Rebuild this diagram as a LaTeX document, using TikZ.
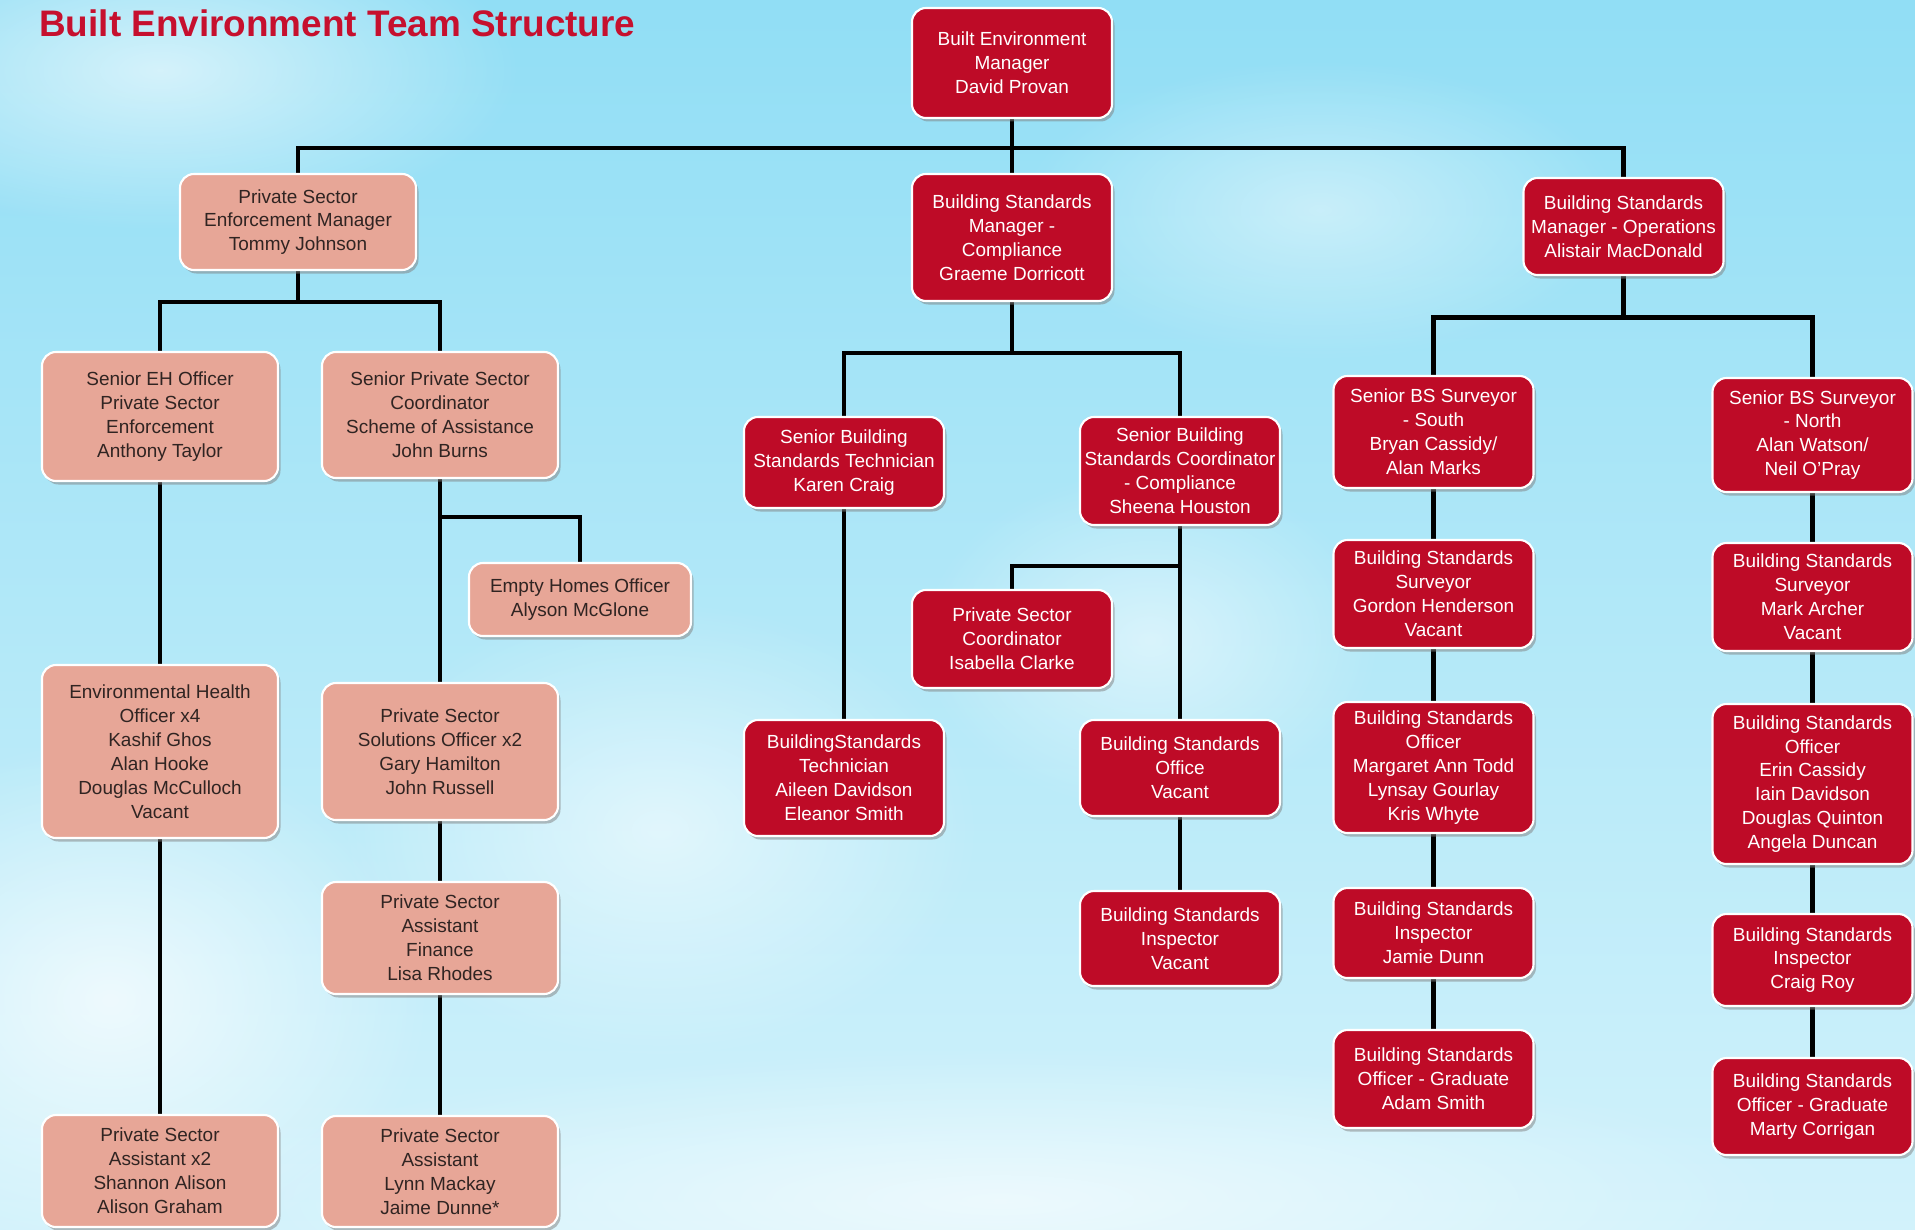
\documentclass[tikz,border=0pt]{standalone}
\usepackage{fontspec}
\setmainfont{Liberation Sans}
\usepackage{xcolor}
\usepackage{tikz}
\usetikzlibrary{
    positioning,
    shadows,
    fadings,
    backgrounds,
}

\definecolor{skytop}{RGB}{145,222,245}
\definecolor{skymid}{RGB}{112,210,240}
\definecolor{skybot}{RGB}{210,242,251}
\definecolor{pinkfill}{RGB}{231,166,151}
\definecolor{pinktext}{RGB}{48,36,34}
\definecolor{redfill}{RGB}{190,11,39}
\definecolor{titlered}{RGB}{198,16,46}

\tikzfading[name=puff, inner color=transparent!0, outer color=transparent!100]

\begin{document}
\begin{tikzpicture}[
        x=0.2mm, y=-0.2mm,
        post/.style={
            rectangle, rounded corners=0.28cm, draw=white, line width=1.2pt,
            fill=#1, align=center, inner sep=1pt, outer sep=0pt,
            font=\fontsize{10.8}{13.6}\selectfont,
            drop shadow={opacity=0.5, shadow xshift=0.5mm, shadow yshift=-0.7mm}
        },
        pinkpost/.style={post=pinkfill, text=pinktext, minimum width=4.72cm},
        redpost/.style={post=redfill, text=white, minimum width=4cm},
        link/.style={line width=2.6pt, black},
        cloud/.style={white, path fading=puff, opacity=#1},
    ]
    \useasboundingbox (0,0) rectangle (1915,1230);

    % ── Sky ──
    \begin{scope}[on background layer]
        \clip (0,0) rectangle (1915,1230);
        \fill[top color=skytop, middle color=skymid, bottom color=skybot] (0,0) rectangle (1915,1230);
        \fill[cloud=0.6] (160,70) ellipse (360 and 160);
        \fill[cloud=0.45] (1320,210) ellipse (300 and 150);
        \fill[cloud=0.7] (110,1000) ellipse (320 and 260);
        \fill[cloud=0.55] (660,830) ellipse (320 and 230);
        \fill[cloud=0.5] (1150,640) ellipse (230 and 170);
        \fill[cloud=0.6] (1000,1200) ellipse (800 and 150);
    \end{scope}

    % ── Title ──
    \node[anchor=base west, inner sep=0pt, text=titlered,
        font=\fontsize{21}{24}\selectfont\bfseries] (title) at (39,37) {Built Environment Team Structure};

    % ── Head ──
    \node[redpost, minimum height=2.2cm] (bem) at (1012,63) {Built Environment\\Manager\\David Provan};

    \node[pinkpost, minimum height=1.92cm] (psem) at (298,222) {Private Sector\\Enforcement Manager\\Tommy Johnson};
    \node[redpost, minimum height=2.54cm] (bsmc) at (1012,237.5) {Building Standards\\Manager -\\Compliance\\Graeme Dorricott};
    \node[redpost, minimum height=1.94cm] (bsmo) at (1623.5,226.5) {Building Standards\\Manager - Operations\\Alistair MacDonald};

    % ── Private sector enforcement ──
    \node[pinkpost, minimum height=2.58cm] (seho) at (160,416.5) {Senior EH Officer\\Private Sector\\Enforcement\\Anthony Taylor};
    \node[pinkpost, minimum height=3.46cm, below=3.68cm of seho] (eho) {Environmental Health\\Officer x4\\Kashif Ghos\\Alan Hooke\\Douglas McCulloch\\Vacant};
    \node[pinkpost, minimum height=2.24cm, below=5.54cm of eho] (psa) {Private Sector\\Assistant x2\\Shannon Alison\\Alison Graham};

    \node[pinkpost, minimum height=2.52cm] (spsc) at (440,415) {Senior Private Sector\\Coordinator\\Scheme of Assistance\\John Burns};
    \node[pinkpost, minimum width=4.44cm, minimum height=1.46cm] (eh) at (580,599.5) {Empty Homes Officer\\Alyson McGlone};
    \node[pinkpost, minimum height=2.74cm, below=4.1cm of spsc] (psso) {Private Sector\\Solutions Officer x2\\Gary Hamilton\\John Russell};
    \node[pinkpost, minimum height=2.24cm, below=1.24cm of psso] (psaf) {Private Sector\\Assistant\\Finance\\Lisa Rhodes};
    \node[pinkpost, minimum height=2.22cm, below=2.44cm of psaf] (psal) {Private Sector\\Assistant\\Lynn Mackay\\Jaime Dunne*};

    % ── Building standards compliance ──
    \node[redpost, minimum height=1.82cm] (sbst) at (844,462.5) {Senior Building\\Standards Technician\\Karen Craig};
    \node[redpost, minimum height=2.32cm, below=4.24cm of sbst] (bst) {BuildingStandards\\Technician\\Aileen Davidson\\Eleanor Smith};

    \node[redpost, minimum height=2.16cm] (sbsc) at (1180,471) {Senior Building\\Standards Coordinator\\- Compliance\\Sheena Houston};
    \node[redpost, minimum height=1.96cm] (psc) at (1012,639) {Private Sector\\Coordinator\\Isabella Clarke};
    \node[redpost, minimum height=1.92cm, below=3.9cm of sbsc] (bsoff) {Building Standards\\Office\\Vacant};
    \node[redpost, minimum height=1.9cm, below=1.5cm of bsoff] (bsinsp) {Building Standards\\Inspector\\Vacant};

    % ── Building standards operations ──
    \node[redpost, minimum height=2.24cm] (south) at (1433.5,432) {Senior BS Surveyor\\- South\\Bryan Cassidy/\\Alan Marks};
    \node[redpost, minimum height=2.16cm, below=1.04cm of south] (svs) {Building Standards\\Surveyor\\Gordon Henderson\\Vacant};
    \node[redpost, minimum height=2.62cm, below=1.08cm of svs] (offs) {Building Standards\\Officer\\Margaret Ann Todd\\Lynsay Gourlay\\Kris Whyte};
    \node[redpost, minimum height=1.8cm, below=1.1cm of offs] (insps) {Building Standards\\Inspector\\Jamie Dunn};
    \node[redpost, minimum height=1.96cm, below=1.04cm of insps] (grads) {Building Standards\\Officer - Graduate\\Adam Smith};

    \node[redpost, minimum height=2.28cm] (north) at (1812.5,435) {Senior BS Surveyor\\- North\\Alan Watson/\\Neil O’Pray};
    \node[redpost, minimum height=2.16cm, below=1.02cm of north] (svn) {Building Standards\\Surveyor\\Mark Archer\\Vacant};
    \node[redpost, minimum height=3.2cm, below=1.06cm of svn] (offn) {Building Standards\\Officer\\Erin Cassidy\\Iain Davidson\\Douglas Quinton\\Angela Duncan};
    \node[redpost, minimum height=1.84cm, below=1.0cm of offn] (inspn) {Building Standards\\Inspector\\Craig Roy};
    \node[redpost, minimum height=1.94cm, below=1.04cm of inspn] (gradn) {Building Standards\\Officer - Graduate\\Marty Corrigan};

    % ── Lines ──
    \coordinate (mainbus) at (1012,148);
    \coordinate (psembus) at (298,302);
    \coordinate (spscbus) at (440,517);
    \coordinate (bsmcbus) at (1012,353);
    \coordinate (sbscbus) at (1180,566);
    \coordinate (bsmobus) at (1623.5,317.5);

    \begin{scope}[on background layer]
        \draw[link] (bem) -- (bsmc);
        \draw[link] (psem) |- (mainbus) -| (bsmo);

        \draw[link] (psem) -- (psembus);
        \draw[link] (seho) |- (psembus) -| (spsc);
        \draw[link] (seho) -- (eho);
        \draw[link] (eho) -- (psa);
        \draw[link] (spsc) -- (psso);
        \draw[link] (spscbus) -| (eh);
        \draw[link] (psso) -- (psaf);
        \draw[link] (psaf) -- (psal);

        \draw[link] (bsmc) -- (bsmcbus);
        \draw[link] (sbst) |- (bsmcbus) -| (sbsc);
        \draw[link] (sbst) -- (bst);
        \draw[link] (sbsc) -- (bsoff);
        \draw[link] (sbscbus) -| (psc);
        \draw[link] (bsoff) -- (bsinsp);

        \draw[link] (bsmo) -- (bsmobus);
        \draw[link] (south) |- (bsmobus) -| (north);
        \draw[link] (south) -- (svs);
        \draw[link] (svs) -- (offs);
        \draw[link] (offs) -- (insps);
        \draw[link] (insps) -- (grads);
        \draw[link] (north) -- (svn);
        \draw[link] (svn) -- (offn);
        \draw[link] (offn) -- (inspn);
        \draw[link] (inspn) -- (gradn);
    \end{scope}

\end{tikzpicture}
\end{document}
